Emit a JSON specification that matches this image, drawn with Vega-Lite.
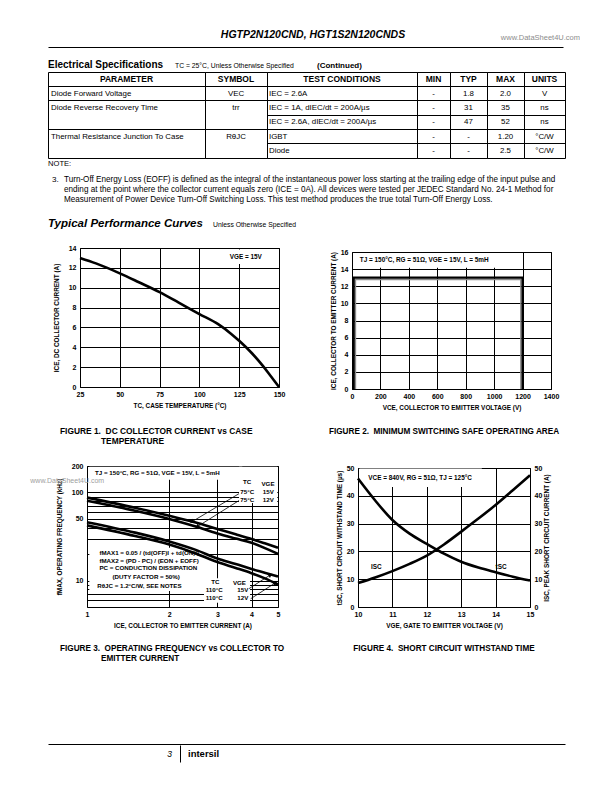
{
"$schema": "https://vega.github.io/schema/vega-lite/v6.json",
"background": "white",
"padding": 0,
"spacing": 0,
"bounds": "full",
"config": {
 "view": {"stroke": null},
 "concat": {"spacing": 0},
 "font": "Liberation Sans",
 "axis": {"labelFont": "Liberation Sans", "labelFontSize": 7, "labelFontWeight": "bold", "labelColor": "black", "titleFont": "Liberation Sans", "titleFontSize": 6.4, "titleFontWeight": "bold", "titleColor": "black", "ticks": false, "domain": false, "grid": true, "gridColor": "black", "gridOpacity": 1, "gridWidth": 1, "labelPadding": 3, "titlePadding": 5, "labelOverlap": false, "labelFlush": false, "labelBound": false},
 "axisY": {"labelPadding": 4}
},
"vconcat": [
 {"hconcat": [
  {"width": 113, "height": 44, "data": {"values": []}, "mark": "point", "encoding": {}},
  {"width": 400, "height": 38, "data": {"values": [{"t": "HGTP2N120CND, HGT1S2N120CNDS"}]}, "mark": {"type": "text", "align": "center", "baseline": "alphabetic", "font": "Liberation Sans", "fontSize": 10.5, "fontWeight": "bold", "fontStyle": "italic", "color": "black"}, "encoding": {"text": {"field": "t"}, "x": {"datum": 0.5, "type": "quantitative", "scale": {"domain": [0, 1]}, "axis": null}, "y": {"datum": 0, "type": "quantitative", "scale": {"domain": [0, 1]}, "axis": null}}},
  {"width": 67, "height": 40, "data": {"values": [{"t": "www.DataSheet4U.com"}]}, "mark": {"type": "text", "align": "right", "baseline": "alphabetic", "font": "Liberation Sans", "fontSize": 7.5, "color": "#8c8c8c"}, "encoding": {"text": {"field": "t"}, "x": {"datum": 1, "type": "quantitative", "scale": {"domain": [0, 1]}, "axis": null}, "y": {"datum": 0, "type": "quantitative", "scale": {"domain": [0, 1]}, "axis": null}}}
 ], "spacing": 0, "bounds": "flush"},
 {"hconcat": [
  {"width": 48, "height": 4, "data": {"values": []}, "mark": "point", "encoding": {}},
  {"width": 515, "height": 3, "data": {"values": []}, "mark": "point", "encoding": {"x": {"field": "v", "type": "quantitative", "scale": {"domain": [0, 1]}, "axis": {"orient": "bottom", "domain": true, "domainColor": "black", "domainWidth": 1, "labels": false, "ticks": false, "grid": false, "title": null}}}}
 ], "spacing": 0, "bounds": "flush"},
 {"hconcat": [
  {"width": 48, "height": 23, "data": {"values": []}, "mark": "point", "encoding": {}},
  {"width": 127, "height": 20, "data": {"values": [{"t": "Electrical Specifications"}]}, "mark": {"type": "text", "align": "left", "baseline": "alphabetic", "font": "Liberation Sans", "fontSize": 10, "fontWeight": "bold", "color": "black"}, "encoding": {"text": {"field": "t"}, "x": {"datum": 0, "type": "quantitative", "scale": {"domain": [0, 1]}, "axis": null}, "y": {"datum": 0, "type": "quantitative", "scale": {"domain": [0, 1]}, "axis": null}}},
  {"width": 142, "height": 20, "data": {"values": [{"t": "TC = 25°C, Unless Otherwise Specified"}]}, "mark": {"type": "text", "align": "left", "baseline": "alphabetic", "font": "Liberation Sans", "fontSize": 6.8, "color": "black"}, "encoding": {"text": {"field": "t"}, "x": {"datum": 0, "type": "quantitative", "scale": {"domain": [0, 1]}, "axis": null}, "y": {"datum": 0, "type": "quantitative", "scale": {"domain": [0, 1]}, "axis": null}}},
  {"width": 80, "height": 20, "data": {"values": [{"t": "(Continued)"}]}, "mark": {"type": "text", "align": "left", "baseline": "alphabetic", "font": "Liberation Sans", "fontSize": 8, "fontWeight": "bold", "color": "black"}, "encoding": {"text": {"field": "t"}, "x": {"datum": 0, "type": "quantitative", "scale": {"domain": [0, 1]}, "axis": null}, "y": {"datum": 0, "type": "quantitative", "scale": {"domain": [0, 1]}, "axis": null}}}
 ], "spacing": 0, "bounds": "flush"},
 {"hconcat": [
  {"width": 48, "height": 88, "data": {"values": []}, "mark": "point", "encoding": {}},
  {"vconcat": [
   {"width": 1, "height": 1, "data": {"values": []}, "mark": "point", "encoding": {}},
   {"hconcat": [
    {"width": 157, "height": 86, "view": {"stroke": "black", "strokeWidth": 1},
     "data": {"values": [{"r": "h", "t": "PARAMETER"}, {"r": "1", "t": "Diode Forward Voltage"}, {"r": "2", "t": "Diode Reverse Recovery Time"}, {"r": "4", "t": "Thermal Resistance Junction To Case"}]},
     "encoding": {"y": {"field": "r", "type": "ordinal", "scale": {"type": "band", "domain": ["h", "1", "2", "3", "4", "5"], "paddingInner": 0, "paddingOuter": 0}, "axis": {"grid": true, "gridColor": "black", "gridOpacity": 1, "gridWidth": 1, "bandPosition": 0, "values": ["1", "2", "4"], "labels": false, "ticks": false, "domain": false, "title": null}}, "text": {"field": "t"}},
     "layer": [
      {"transform": [{"filter": "datum.r === 'h'"}], "mark": {"type": "text", "align": "center", "baseline": "middle", "font": "Liberation Sans", "fontSize": 8.5, "fontWeight": "bold"}, "encoding": {"x": {"datum": 0.5, "type": "quantitative", "scale": {"domain": [0, 1]}, "axis": null}}},
      {"transform": [{"filter": "datum.r !== 'h'"}], "mark": {"type": "text", "align": "left", "baseline": "middle", "font": "Liberation Sans", "fontSize": 7.9, "dx": 3}, "encoding": {"x": {"datum": 0, "type": "quantitative", "scale": {"domain": [0, 1]}, "axis": null}}}
     ]},
    {"width": 62, "height": 86, "view": {"stroke": "black", "strokeWidth": 1},
     "data": {"values": [{"r": "h", "t": "SYMBOL"}, {"r": "1", "t": "VEC"}, {"r": "2", "t": "trr"}, {"r": "4", "t": "RθJC"}]},
     "encoding": {"y": {"field": "r", "type": "ordinal", "scale": {"type": "band", "domain": ["h", "1", "2", "3", "4", "5"], "paddingInner": 0, "paddingOuter": 0}, "axis": {"grid": true, "gridColor": "black", "gridOpacity": 1, "gridWidth": 1, "bandPosition": 0, "values": ["1", "2", "4"], "labels": false, "ticks": false, "domain": false, "title": null}}, "text": {"field": "t"}},
     "layer": [
      {"transform": [{"filter": "datum.r === 'h'"}], "mark": {"type": "text", "align": "center", "baseline": "middle", "font": "Liberation Sans", "fontSize": 8.5, "fontWeight": "bold"}, "encoding": {"x": {"datum": 0.5, "type": "quantitative", "scale": {"domain": [0, 1]}, "axis": null}}},
      {"transform": [{"filter": "datum.r !== 'h'"}], "mark": {"type": "text", "align": "center", "baseline": "middle", "font": "Liberation Sans", "fontSize": 7.9}, "encoding": {"x": {"datum": 0.5, "type": "quantitative", "scale": {"domain": [0, 1]}, "axis": null}}}
     ]},
    {"width": 150, "height": 86, "view": {"stroke": "black", "strokeWidth": 1},
     "data": {"values": [{"r": "h", "t": "TEST CONDITIONS"}, {"r": "1", "t": "IEC = 2.6A"}, {"r": "2", "t": "IEC = 1A, dIEC/dt = 200A/µs"}, {"r": "3", "t": "IEC = 2.6A, dIEC/dt = 200A/µs"}, {"r": "4", "t": "IGBT"}, {"r": "5", "t": "Diode"}]},
     "encoding": {"y": {"field": "r", "type": "ordinal", "scale": {"type": "band", "domain": ["h", "1", "2", "3", "4", "5"], "paddingInner": 0, "paddingOuter": 0}, "axis": {"grid": true, "gridColor": "black", "gridOpacity": 1, "gridWidth": 1, "bandPosition": 0, "values": ["1", "2", "3", "4", "5"], "labels": false, "ticks": false, "domain": false, "title": null}}, "text": {"field": "t"}},
     "layer": [
      {"transform": [{"filter": "datum.r === 'h'"}], "mark": {"type": "text", "align": "center", "baseline": "middle", "font": "Liberation Sans", "fontSize": 8.5, "fontWeight": "bold"}, "encoding": {"x": {"datum": 0.5, "type": "quantitative", "scale": {"domain": [0, 1]}, "axis": null}}},
      {"transform": [{"filter": "datum.r !== 'h'"}], "mark": {"type": "text", "align": "left", "baseline": "middle", "font": "Liberation Sans", "fontSize": 7.9, "dx": 2}, "encoding": {"x": {"datum": 0, "type": "quantitative", "scale": {"domain": [0, 1]}, "axis": null}}}
     ]},
    {"width": 33, "height": 86, "view": {"stroke": "black", "strokeWidth": 1},
     "data": {"values": [{"r": "h", "t": "MIN"}, {"r": "1", "t": "-"}, {"r": "2", "t": "-"}, {"r": "3", "t": "-"}, {"r": "4", "t": "-"}, {"r": "5", "t": "-"}]},
     "encoding": {"y": {"field": "r", "type": "ordinal", "scale": {"type": "band", "domain": ["h", "1", "2", "3", "4", "5"], "paddingInner": 0, "paddingOuter": 0}, "axis": {"grid": true, "gridColor": "black", "gridOpacity": 1, "gridWidth": 1, "bandPosition": 0, "values": ["1", "2", "3", "4", "5"], "labels": false, "ticks": false, "domain": false, "title": null}}, "text": {"field": "t"}},
     "layer": [
      {"transform": [{"filter": "datum.r === 'h'"}], "mark": {"type": "text", "align": "center", "baseline": "middle", "font": "Liberation Sans", "fontSize": 8.5, "fontWeight": "bold"}, "encoding": {"x": {"datum": 0.5, "type": "quantitative", "scale": {"domain": [0, 1]}, "axis": null}}},
      {"transform": [{"filter": "datum.r !== 'h'"}], "mark": {"type": "text", "align": "center", "baseline": "middle", "font": "Liberation Sans", "fontSize": 7.9}, "encoding": {"x": {"datum": 0.5, "type": "quantitative", "scale": {"domain": [0, 1]}, "axis": null}}}
     ]},
    {"width": 37, "height": 86, "view": {"stroke": "black", "strokeWidth": 1},
     "data": {"values": [{"r": "h", "t": "TYP"}, {"r": "1", "t": "1.8"}, {"r": "2", "t": "31"}, {"r": "3", "t": "47"}, {"r": "4", "t": "-"}, {"r": "5", "t": "-"}]},
     "encoding": {"y": {"field": "r", "type": "ordinal", "scale": {"type": "band", "domain": ["h", "1", "2", "3", "4", "5"], "paddingInner": 0, "paddingOuter": 0}, "axis": {"grid": true, "gridColor": "black", "gridOpacity": 1, "gridWidth": 1, "bandPosition": 0, "values": ["1", "2", "3", "4", "5"], "labels": false, "ticks": false, "domain": false, "title": null}}, "text": {"field": "t"}},
     "layer": [
      {"transform": [{"filter": "datum.r === 'h'"}], "mark": {"type": "text", "align": "center", "baseline": "middle", "font": "Liberation Sans", "fontSize": 8.5, "fontWeight": "bold"}, "encoding": {"x": {"datum": 0.5, "type": "quantitative", "scale": {"domain": [0, 1]}, "axis": null}}},
      {"transform": [{"filter": "datum.r !== 'h'"}], "mark": {"type": "text", "align": "center", "baseline": "middle", "font": "Liberation Sans", "fontSize": 7.9}, "encoding": {"x": {"datum": 0.5, "type": "quantitative", "scale": {"domain": [0, 1]}, "axis": null}}}
     ]},
    {"width": 37, "height": 86, "view": {"stroke": "black", "strokeWidth": 1},
     "data": {"values": [{"r": "h", "t": "MAX"}, {"r": "1", "t": "2.0"}, {"r": "2", "t": "35"}, {"r": "3", "t": "52"}, {"r": "4", "t": "1.20"}, {"r": "5", "t": "2.5"}]},
     "encoding": {"y": {"field": "r", "type": "ordinal", "scale": {"type": "band", "domain": ["h", "1", "2", "3", "4", "5"], "paddingInner": 0, "paddingOuter": 0}, "axis": {"grid": true, "gridColor": "black", "gridOpacity": 1, "gridWidth": 1, "bandPosition": 0, "values": ["1", "2", "3", "4", "5"], "labels": false, "ticks": false, "domain": false, "title": null}}, "text": {"field": "t"}},
     "layer": [
      {"transform": [{"filter": "datum.r === 'h'"}], "mark": {"type": "text", "align": "center", "baseline": "middle", "font": "Liberation Sans", "fontSize": 8.5, "fontWeight": "bold"}, "encoding": {"x": {"datum": 0.5, "type": "quantitative", "scale": {"domain": [0, 1]}, "axis": null}}},
      {"transform": [{"filter": "datum.r !== 'h'"}], "mark": {"type": "text", "align": "center", "baseline": "middle", "font": "Liberation Sans", "fontSize": 7.9}, "encoding": {"x": {"datum": 0.5, "type": "quantitative", "scale": {"domain": [0, 1]}, "axis": null}}}
     ]},
    {"width": 41, "height": 86, "view": {"stroke": "black", "strokeWidth": 1},
     "data": {"values": [{"r": "h", "t": "UNITS"}, {"r": "1", "t": "V"}, {"r": "2", "t": "ns"}, {"r": "3", "t": "ns"}, {"r": "4", "t": "°C/W"}, {"r": "5", "t": "°C/W"}]},
     "encoding": {"y": {"field": "r", "type": "ordinal", "scale": {"type": "band", "domain": ["h", "1", "2", "3", "4", "5"], "paddingInner": 0, "paddingOuter": 0}, "axis": {"grid": true, "gridColor": "black", "gridOpacity": 1, "gridWidth": 1, "bandPosition": 0, "values": ["1", "2", "3", "4", "5"], "labels": false, "ticks": false, "domain": false, "title": null}}, "text": {"field": "t"}},
     "layer": [
      {"transform": [{"filter": "datum.r === 'h'"}], "mark": {"type": "text", "align": "center", "baseline": "middle", "font": "Liberation Sans", "fontSize": 8.5, "fontWeight": "bold"}, "encoding": {"x": {"datum": 0.5, "type": "quantitative", "scale": {"domain": [0, 1]}, "axis": null}}},
      {"transform": [{"filter": "datum.r !== 'h'"}], "mark": {"type": "text", "align": "center", "baseline": "middle", "font": "Liberation Sans", "fontSize": 7.9}, "encoding": {"x": {"datum": 0.5, "type": "quantitative", "scale": {"domain": [0, 1]}, "axis": null}}}
     ]}
   ], "spacing": 0, "bounds": "flush"}
  ], "spacing": 0, "bounds": "flush"}
 ], "spacing": 0, "bounds": "flush"},
 {"hconcat": [
  {"width": 48, "height": 9, "data": {"values": []}, "mark": "point", "encoding": {}},
  {"width": 60, "height": 7, "data": {"values": [{"t": "NOTE:"}]}, "mark": {"type": "text", "align": "left", "baseline": "alphabetic", "font": "Liberation Sans", "fontSize": 7.6, "color": "black"}, "encoding": {"text": {"field": "t"}, "x": {"datum": 0, "type": "quantitative", "scale": {"domain": [0, 1]}, "axis": null}, "y": {"datum": 0, "type": "quantitative", "scale": {"domain": [0, 1]}, "axis": null}}}
 ], "spacing": 0, "bounds": "flush"},
 {"hconcat": [
  {"width": 52, "height": 36, "data": {"values": []}, "mark": "point", "encoding": {}},
  {"width": 12, "height": 14, "data": {"values": [{"t": "3."}]}, "mark": {"type": "text", "align": "left", "baseline": "alphabetic", "font": "Liberation Sans", "fontSize": 8.1, "color": "black"}, "encoding": {"text": {"field": "t"}, "x": {"datum": 0, "type": "quantitative", "scale": {"domain": [0, 1]}, "axis": null}, "y": {"datum": 0, "type": "quantitative", "scale": {"domain": [0, 1]}, "axis": null}}},
  {"width": 500, "height": 34, "data": {"values": [
    {"i": 0, "t": "Turn-Off Energy Loss (EOFF) is defined as the integral of the instantaneous power loss starting at the trailing edge of the input pulse and"},
    {"i": 1, "t": "ending at the point where the collector current equals zero (ICE = 0A). All devices were tested per JEDEC Standard No. 24-1 Method for"},
    {"i": 2, "t": "Measurement of Power Device Turn-Off Switching Loss. This test method produces the true total Turn-Off Energy Loss."}]},
   "mark": {"type": "text", "align": "left", "baseline": "alphabetic", "font": "Liberation Sans", "fontSize": 8.15, "color": "black"},
   "encoding": {"text": {"field": "t"}, "x": {"datum": 0, "type": "quantitative", "scale": {"domain": [0, 1]}, "axis": null}, "y": {"field": "i", "type": "quantitative", "scale": {"domain": [0, 2], "range": [14, 34]}, "axis": null}}}
 ], "spacing": 0, "bounds": "flush"},
 {"hconcat": [
  {"width": 48, "height": 26, "data": {"values": []}, "mark": "point", "encoding": {}},
  {"width": 165, "height": 23, "data": {"values": [{"t": "Typical Performance Curves"}]}, "mark": {"type": "text", "align": "left", "baseline": "alphabetic", "font": "Liberation Sans", "fontSize": 11.5, "fontWeight": "bold", "fontStyle": "italic", "color": "black"}, "encoding": {"text": {"field": "t"}, "x": {"datum": 0, "type": "quantitative", "scale": {"domain": [0, 1]}, "axis": null}, "y": {"datum": 0, "type": "quantitative", "scale": {"domain": [0, 1]}, "axis": null}}},
  {"width": 200, "height": 23, "data": {"values": [{"t": "Unless Otherwise Specified"}]}, "mark": {"type": "text", "align": "left", "baseline": "alphabetic", "font": "Liberation Sans", "fontSize": 6.8, "color": "black"}, "encoding": {"text": {"field": "t"}, "x": {"datum": 0, "type": "quantitative", "scale": {"domain": [0, 1]}, "axis": null}, "y": {"datum": 0, "type": "quantitative", "scale": {"domain": [0, 1]}, "axis": null}}}
 ], "spacing": 0, "bounds": "flush"},
 {"hconcat": [
  {"width": 80, "height": 186, "data": {"values": []}, "mark": "point", "encoding": {}},
  {"vconcat": [
   {"width": 1, "height": 18, "data": {"values": []}, "mark": "point", "encoding": {}},
   {"hconcat": [
    {"width": 199, "height": 139, "view": {"stroke": "black", "strokeWidth": 1},
     "encoding": {
      "x": {"field": "x", "type": "quantitative", "scale": {"domain": [25, 150], "nice": false, "zero": false}, "axis": {"values": [25, 50, 75, 100, 125, 150], "title": "TC, CASE TEMPERATURE (°C)"}},
      "y": {"field": "y", "type": "quantitative", "scale": {"domain": [0, 14], "nice": false}, "axis": {"values": [0, 2, 4, 6, 8, 10, 12, 14], "title": "ICE, DC COLLECTOR CURRENT (A)", "titlePadding": 9}}},
     "layer": [
      {"data": {"values": [{"x": 117, "x2": 142, "y": 12.4, "y2": 13.85}]}, "mark": {"type": "rect", "fill": "white"}, "encoding": {"x2": {"field": "x2"}, "y2": {"field": "y2"}}},
      {"data": {"values": [{"x": 25, "y": 13.0}, {"x": 35, "y": 12.45}, {"x": 50, "y": 11.45}, {"x": 62, "y": 10.55}, {"x": 75, "y": 9.55}, {"x": 87, "y": 8.5}, {"x": 100, "y": 7.35}, {"x": 112, "y": 6.3}, {"x": 120, "y": 5.35}, {"x": 125, "y": 4.65}, {"x": 133, "y": 3.4}, {"x": 140, "y": 2.1}, {"x": 145, "y": 1.05}, {"x": 150, "y": 0}]}, "mark": {"type": "line", "color": "black", "strokeWidth": 2.6, "interpolate": "monotone"}},
      {"data": {"values": [{"x": 119, "y": 13.1, "t": "VGE = 15V"}]}, "mark": {"type": "text", "align": "left", "baseline": "middle", "font": "Liberation Sans", "fontSize": 6.4, "fontWeight": "bold"}, "encoding": {"text": {"field": "t"}}}
     ]},
    {"width": 73, "height": 1, "data": {"values": []}, "mark": "point", "encoding": {}},
    {"vconcat": [
     {"width": 1, "height": 4, "data": {"values": []}, "mark": "point", "encoding": {}},
     {"width": 199, "height": 137, "view": {"stroke": "black", "strokeWidth": 1},
      "encoding": {
       "x": {"field": "x", "type": "quantitative", "scale": {"domain": [0, 1400], "nice": false}, "axis": {"values": [0, 200, 400, 600, 800, 1000, 1200, 1400], "format": "d", "title": "VCE, COLLECTOR TO EMITTER VOLTAGE (V)"}},
       "y": {"field": "y", "type": "quantitative", "scale": {"domain": [0, 16], "nice": false}, "axis": {"values": [0, 2, 4, 6, 8, 10, 12, 14, 16], "title": "ICE, COLLECTOR TO EMITTER CURRENT (A)", "titlePadding": 4}}},
      "layer": [
       {"data": {"values": [{"x": 8, "x2": 1192, "y": 14.15, "y2": 15.88}]}, "mark": {"type": "rect", "fill": "white"}, "encoding": {"x2": {"field": "x2"}, "y2": {"field": "y2"}}},
       {"data": {"values": [{"i": 0, "x": 24, "y": 0}, {"i": 1, "x": 24, "y": 12.78}, {"i": 2, "x": 1188, "y": 12.78}, {"i": 3, "x": 1188, "y": 0}]}, "mark": {"type": "line", "color": "#8a8a8a", "strokeWidth": 1.5}, "encoding": {"order": {"field": "i"}}},
       {"data": {"values": [{"i": 0, "x": 12, "y": 0}, {"i": 1, "x": 12, "y": 13}, {"i": 2, "x": 1200, "y": 13}, {"i": 3, "x": 1200, "y": 0}]}, "mark": {"type": "line", "color": "black", "strokeWidth": 2.2}, "encoding": {"order": {"field": "i"}}},
       {"data": {"values": [{"x": 55, "y": 15.05, "t": "TJ = 150°C, RG = 51Ω, VGE = 15V, L = 5mH"}]}, "mark": {"type": "text", "align": "left", "baseline": "middle", "font": "Liberation Sans", "fontSize": 6.4, "fontWeight": "bold"}, "encoding": {"text": {"field": "t"}}}
      ]}
    ], "spacing": 0, "bounds": "flush"}
   ], "spacing": 0, "bounds": "flush"}
  ], "spacing": 0, "bounds": "flush"}
 ], "spacing": 0, "bounds": "flush"},
 {"hconcat": [
  {"width": 60, "height": 31, "data": {"values": []}, "mark": "point", "encoding": {}},
  {"width": 220, "height": 28, "layer": [
    {"data": {"values": [{"t": "FIGURE 1.\u00a0\u00a0DC COLLECTOR CURRENT vs CASE"}]}, "mark": {"type": "text", "align": "left", "baseline": "alphabetic", "font": "Liberation Sans", "fontSize": 8.4, "fontWeight": "bold", "dy": -10}, "encoding": {"text": {"field": "t"}, "x": {"datum": 0, "type": "quantitative", "scale": {"domain": [0, 1]}, "axis": null}, "y": {"datum": 0, "type": "quantitative", "scale": {"domain": [0, 1]}, "axis": null}}},
    {"data": {"values": [{"t": "TEMPERATURE"}]}, "mark": {"type": "text", "align": "left", "baseline": "alphabetic", "font": "Liberation Sans", "fontSize": 8.4, "fontWeight": "bold", "dx": 41}, "encoding": {"text": {"field": "t"}, "x": {"datum": 0, "type": "quantitative", "scale": {"domain": [0, 1]}, "axis": null}, "y": {"datum": 0, "type": "quantitative", "scale": {"domain": [0, 1]}, "axis": null}}}
  ]},
  {"width": 64, "height": 1, "data": {"values": []}, "mark": "point", "encoding": {}},
  {"width": 200, "height": 18, "data": {"values": [{"t": "FIGURE 2.\u00a0\u00a0MINIMUM SWITCHING SAFE OPERATING AREA"}]}, "mark": {"type": "text", "align": "center", "baseline": "alphabetic", "font": "Liberation Sans", "fontSize": 8.2, "fontWeight": "bold"}, "encoding": {"text": {"field": "t"}, "x": {"datum": 0.5, "type": "quantitative", "scale": {"domain": [0, 1]}, "axis": null}, "y": {"datum": 0, "type": "quantitative", "scale": {"domain": [0, 1]}, "axis": null}}}
 ], "spacing": 0, "bounds": "flush"},
 {"hconcat": [
  {"width": 87, "height": 188, "data": {"values": []}, "mark": "point", "encoding": {}},
  {"vconcat": [
   {"width": 1, "height": 19, "data": {"values": []}, "mark": "point", "encoding": {}},
   {"hconcat": [
    {"width": 191, "height": 141, "view": {"stroke": "black", "strokeWidth": 1},
     "encoding": {
      "x": {"field": "x", "type": "quantitative", "scale": {"type": "log", "domain": [1, 5], "nice": false}, "axis": {"values": [1, 2, 3, 4, 5], "format": "d", "title": "ICE, COLLECTOR TO EMITTER CURRENT (A)"}},
      "y": {"field": "y", "type": "quantitative", "scale": {"type": "log", "domain": [5, 200], "nice": false}, "axis": {"values": [6, 7, 8, 9, 10, 20, 30, 40, 50, 60, 70, 80, 90, 100, 200], "format": "d", "labelExpr": "indexof([10, 50, 100, 200], datum.value) >= 0 ? datum.label : ''", "title": "fMAX, OPERATING FREQUENCY (kHz)", "titlePadding": 9}}},
     "layer": [
      {"data": {"values": [{"x": 1.02, "x2": 3.7, "y": 140, "y2": 196}, {"x": 3.6, "x2": 4.97, "y": 76, "y2": 196}, {"x": 1.02, "x2": 2.75, "y": 7.6, "y2": 23.5}, {"x": 2.68, "x2": 3.95, "y": 5.6, "y2": 10.6}]}, "mark": {"type": "rect", "fill": "white"}, "encoding": {"x2": {"field": "x2"}, "y2": {"field": "y2"}}},
      {"data": {"values": [
        {"s": "a", "x": 1, "y": 87.5}, {"s": "a", "x": 1.5, "y": 67}, {"s": "a", "x": 2, "y": 54.5}, {"s": "a", "x": 2.5, "y": 45.5}, {"s": "a", "x": 3, "y": 38.5}, {"s": "a", "x": 3.5, "y": 33.5}, {"s": "a", "x": 4, "y": 29.6}, {"s": "a", "x": 4.5, "y": 26.3}, {"s": "a", "x": 5, "y": 23.6},
        {"s": "b", "x": 1, "y": 80.5}, {"s": "b", "x": 1.5, "y": 62}, {"s": "b", "x": 2, "y": 50}, {"s": "b", "x": 2.5, "y": 41}, {"s": "b", "x": 3, "y": 34.3}, {"s": "b", "x": 3.5, "y": 30}, {"s": "b", "x": 4, "y": 26.8}, {"s": "b", "x": 4.5, "y": 23.2}, {"s": "b", "x": 5, "y": 20},
        {"s": "c", "x": 1, "y": 46}, {"s": "c", "x": 1.5, "y": 35}, {"s": "c", "x": 2, "y": 27.8}, {"s": "c", "x": 2.5, "y": 22.3}, {"s": "c", "x": 3, "y": 17.8}, {"s": "c", "x": 3.5, "y": 15.4}, {"s": "c", "x": 4, "y": 13.5}, {"s": "c", "x": 4.5, "y": 12.2}, {"s": "c", "x": 5, "y": 11.1},
        {"s": "d", "x": 1, "y": 42.3}, {"s": "d", "x": 1.5, "y": 32}, {"s": "d", "x": 2, "y": 25.6}, {"s": "d", "x": 2.5, "y": 20.3}, {"s": "d", "x": 3, "y": 16.2}, {"s": "d", "x": 3.5, "y": 13.9}, {"s": "d", "x": 4, "y": 12.1}, {"s": "d", "x": 4.5, "y": 10.5}, {"s": "d", "x": 5, "y": 9.0}]},
       "mark": {"type": "line", "color": "black", "strokeWidth": 2.6, "interpolate": "monotone"}, "encoding": {"detail": {"field": "s"}}},
      {"data": {"values": [{"a": "u1", "x": 3.6, "y": 97}, {"a": "u1", "x": 2.42, "y": 46.5}, {"a": "u2", "x": 3.6, "y": 81}, {"a": "u2", "x": 2.53, "y": 40.8}, {"a": "l1", "x": 3.92, "y": 8.1}, {"a": "l1", "x": 4.69, "y": 11.6}, {"a": "l2", "x": 3.97, "y": 6.2}, {"a": "l2", "x": 4.89, "y": 9.4}]}, "mark": {"type": "line", "color": "black", "strokeWidth": 0.8}, "encoding": {"detail": {"field": "a"}}},
      {"data": {"values": [{"x": 2.42, "y": 46.5}, {"x": 2.53, "y": 40.8}]}, "mark": {"type": "point", "shape": "triangle-up", "filled": true, "color": "black", "opacity": 1, "size": 22, "angle": 238.5}},
      {"data": {"values": [{"x": 4.69, "y": 11.6}, {"x": 4.89, "y": 9.4}]}, "mark": {"type": "point", "shape": "triangle-up", "filled": true, "color": "black", "opacity": 1, "size": 22, "angle": 58}},
      {"data": {"values": [
        {"x": 1.07, "y": 165, "t": "TJ = 150°C, RG = 51Ω, VGE = 15V, L = 5mH"},
        {"x": 3.72, "y": 133, "t": "TC"}, {"x": 4.35, "y": 126, "t": "VGE"},
        {"x": 3.64, "y": 100, "t": "75°C"}, {"x": 4.4, "y": 100, "t": "15V"},
        {"x": 3.64, "y": 83, "t": "75°C"}, {"x": 4.4, "y": 83, "t": "12V"},
        {"x": 1.11, "y": 20.5, "t": "fMAX1 = 0.05 / (td(OFF)I + td(ON)I)"},
        {"x": 1.11, "y": 16.7, "t": "fMAX2 = (PD - PC) / (EON + EOFF)"},
        {"x": 1.11, "y": 13.7, "t": "PC = CONDUCTION DISSIPATION"},
        {"x": 1.24, "y": 10.9, "t": "(DUTY FACTOR = 50%)"},
        {"x": 1.09, "y": 8.7, "t": "RθJC = 1.2°C/W, SEE NOTES"},
        {"x": 2.85, "y": 9.7, "t": "TC"}, {"x": 3.42, "y": 9.4, "t": "VGE"},
        {"x": 2.72, "y": 7.9, "t": "110°C"}, {"x": 3.55, "y": 7.9, "t": "15V"},
        {"x": 2.72, "y": 6.3, "t": "110°C"}, {"x": 3.55, "y": 6.3, "t": "12V"}]},
       "mark": {"type": "text", "align": "left", "baseline": "middle", "font": "Liberation Sans", "fontSize": 6.2, "fontWeight": "bold"}, "encoding": {"text": {"field": "t"}}},
      {"data": {"values": [{"x": 0.62, "y": 135, "t": "www.DataSheet4U.com"}]}, "mark": {"type": "text", "align": "left", "baseline": "middle", "font": "Liberation Sans", "fontSize": 7, "color": "#a0a0a0"}, "encoding": {"text": {"field": "t"}}}
     ]},
    {"width": 80, "height": 1, "data": {"values": []}, "mark": "point", "encoding": {}},
    {"vconcat": [
     {"width": 1, "height": 2, "data": {"values": []}, "mark": "point", "encoding": {}},
     {"width": 172, "height": 139, "view": {"stroke": "black", "strokeWidth": 1},
      "layer": [
       {"encoding": {
         "x": {"field": "x", "type": "quantitative", "scale": {"domain": [10, 15], "nice": false, "zero": false}, "axis": {"values": [10, 11, 12, 13, 14, 15], "title": "VGE, GATE TO EMITTER VOLTAGE (V)"}},
         "y": {"field": "y", "type": "quantitative", "scale": {"domain": [0, 50], "nice": false}, "axis": {"orient": "left", "values": [0, 10, 20, 30, 40, 50], "title": "tSC, SHORT CIRCUIT WITHSTAND TIME (µs)", "titlePadding": 4}}},
        "layer": [
         {"data": {"values": [{"x": 10.04, "x2": 13.6, "y": 43.2, "y2": 49.85}]}, "mark": {"type": "rect", "fill": "white"}, "encoding": {"x2": {"field": "x2"}, "y2": {"field": "y2"}}},
         {"data": {"values": [{"x": 10, "y": 46.2}, {"x": 10.5, "y": 38.3}, {"x": 11, "y": 31.3}, {"x": 11.5, "y": 26.4}, {"x": 12, "y": 22.7}, {"x": 12.5, "y": 19.2}, {"x": 13, "y": 16.3}, {"x": 13.5, "y": 14.2}, {"x": 14, "y": 12.5}, {"x": 14.5, "y": 10.9}, {"x": 15, "y": 9.5}]}, "mark": {"type": "line", "color": "black", "strokeWidth": 2.6, "interpolate": "monotone"}},
         {"data": {"values": [{"x": 10.3, "y": 46.3, "t": "VCE = 840V, RG = 51Ω, TJ = 125°C"}, {"x": 10.38, "y": 14.3, "t": "ISC"}, {"x": 14.0, "y": 14.3, "t": "tSC"}]}, "mark": {"type": "text", "align": "left", "baseline": "middle", "font": "Liberation Sans", "fontSize": 6.4, "fontWeight": "bold"}, "encoding": {"text": {"field": "t"}}}
        ]},
       {"data": {"values": [{"x": 10, "y": 8.6}, {"x": 10.5, "y": 10.6}, {"x": 11, "y": 12.9}, {"x": 11.5, "y": 15.5}, {"x": 12, "y": 18.5}, {"x": 12.5, "y": 22.5}, {"x": 13, "y": 27.1}, {"x": 13.5, "y": 31.8}, {"x": 14, "y": 36.7}, {"x": 14.5, "y": 42}, {"x": 15, "y": 47.4}]},
        "mark": {"type": "line", "color": "black", "strokeWidth": 2.6, "interpolate": "monotone"},
        "encoding": {
         "x": {"field": "x", "type": "quantitative", "scale": {"domain": [10, 15], "nice": false, "zero": false}, "axis": {"values": [10, 11, 12, 13, 14, 15], "title": "VGE, GATE TO EMITTER VOLTAGE (V)"}},
         "y": {"field": "y", "type": "quantitative", "scale": {"domain": [0, 50], "nice": false}, "axis": {"orient": "right", "values": [0, 10, 20, 30, 40, 50], "grid": false, "title": "ISC, PEAK SHORT CIRCUIT CURRENT (A)", "titleAngle": -90, "titleBaseline": "top", "titlePadding": 2}}}}
      ],
      "resolve": {"axis": {"y": "independent"}}}
    ], "spacing": 0, "bounds": "flush"}
   ], "spacing": 0, "bounds": "flush"}
  ], "spacing": 0, "bounds": "flush"}
 ], "spacing": 0, "bounds": "flush"},
 {"hconcat": [
  {"width": 60, "height": 29, "data": {"values": []}, "mark": "point", "encoding": {}},
  {"width": 230, "height": 26, "layer": [
    {"data": {"values": [{"t": "FIGURE 3.\u00a0\u00a0OPERATING FREQUENCY vs COLLECTOR TO"}]}, "mark": {"type": "text", "align": "left", "baseline": "alphabetic", "font": "Liberation Sans", "fontSize": 8.2, "fontWeight": "bold", "dy": -10}, "encoding": {"text": {"field": "t"}, "x": {"datum": 0, "type": "quantitative", "scale": {"domain": [0, 1]}, "axis": null}, "y": {"datum": 0, "type": "quantitative", "scale": {"domain": [0, 1]}, "axis": null}}},
    {"data": {"values": [{"t": "EMITTER CURRENT"}]}, "mark": {"type": "text", "align": "left", "baseline": "alphabetic", "font": "Liberation Sans", "fontSize": 8.2, "fontWeight": "bold", "dx": 41}, "encoding": {"text": {"field": "t"}, "x": {"datum": 0, "type": "quantitative", "scale": {"domain": [0, 1]}, "axis": null}, "y": {"datum": 0, "type": "quantitative", "scale": {"domain": [0, 1]}, "axis": null}}}
  ]},
  {"width": 54, "height": 1, "data": {"values": []}, "mark": "point", "encoding": {}},
  {"width": 200, "height": 16, "data": {"values": [{"t": "FIGURE 4.\u00a0\u00a0SHORT CIRCUIT WITHSTAND TIME"}]}, "mark": {"type": "text", "align": "center", "baseline": "alphabetic", "font": "Liberation Sans", "fontSize": 8.2, "fontWeight": "bold"}, "encoding": {"text": {"field": "t"}, "x": {"datum": 0.5, "type": "quantitative", "scale": {"domain": [0, 1]}, "axis": null}, "y": {"datum": 0, "type": "quantitative", "scale": {"domain": [0, 1]}, "axis": null}}}
 ], "spacing": 0, "bounds": "flush"},
 {"hconcat": [
  {"width": 48, "height": 81, "data": {"values": []}, "mark": "point", "encoding": {}},
  {"width": 517, "height": 80, "data": {"values": []}, "mark": "point", "encoding": {"x": {"field": "v", "type": "quantitative", "scale": {"domain": [0, 1]}, "axis": {"orient": "bottom", "domain": true, "domainColor": "black", "domainWidth": 1, "labels": false, "ticks": false, "grid": false, "title": null}}}}
 ], "spacing": 0, "bounds": "flush"},
 {"hconcat": [
  {"width": 150, "height": 20, "data": {"values": []}, "mark": "point", "encoding": {}},
  {"width": 22, "height": 12, "data": {"values": [{"t": "3"}]}, "mark": {"type": "text", "align": "right", "baseline": "alphabetic", "font": "Liberation Sans", "fontSize": 8.5, "fontStyle": "italic", "color": "black"}, "encoding": {"text": {"field": "t"}, "x": {"datum": 1, "type": "quantitative", "scale": {"domain": [0, 1]}, "axis": null}, "y": {"datum": 0, "type": "quantitative", "scale": {"domain": [0, 1]}, "axis": null}}},
  {"width": 8, "height": 1, "data": {"values": []}, "mark": "point", "encoding": {}},
  {"width": 1, "height": 17, "data": {"values": []}, "mark": "point", "encoding": {"y": {"field": "v", "type": "quantitative", "scale": {"domain": [0, 1]}, "axis": {"orient": "left", "domain": true, "domainColor": "black", "domainWidth": 1, "labels": false, "ticks": false, "grid": false, "title": null}}}},
  {"width": 7, "height": 1, "data": {"values": []}, "mark": "point", "encoding": {}},
  {"width": 50, "height": 12, "data": {"values": [{"t": "intersil"}]}, "mark": {"type": "text", "align": "left", "baseline": "alphabetic", "font": "Liberation Sans", "fontSize": 9.5, "fontWeight": "bold", "color": "black"}, "encoding": {"text": {"field": "t"}, "x": {"datum": 0, "type": "quantitative", "scale": {"domain": [0, 1]}, "axis": null}, "y": {"datum": 0, "type": "quantitative", "scale": {"domain": [0, 1]}, "axis": null}}}
 ], "spacing": 0, "bounds": "flush"}
]
}
